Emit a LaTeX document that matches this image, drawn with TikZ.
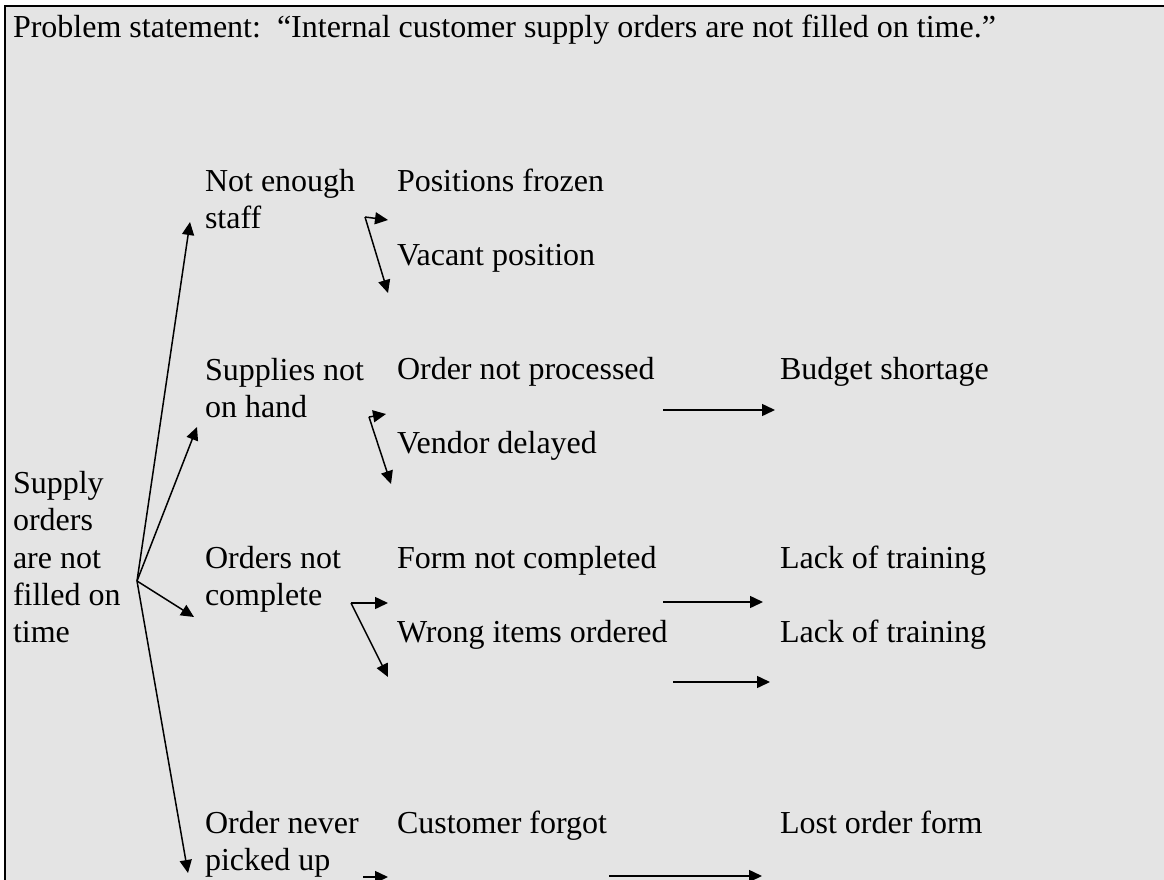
\documentclass[tikz,border=0pt]{standalone}
\usepackage{fontspec}
\setmainfont{Liberation Serif}
\usetikzlibrary{arrows.meta}
\definecolor{boxgray}{HTML}{E4E4E4}
\newcommand{\lbl}[1]{\begin{tabular}[t]{@{}l@{}}#1\end{tabular}}
\begin{document}
\begin{tikzpicture}[x=1pt,y=-1pt,
  txt/.style={anchor=base west,inner sep=0pt,outer sep=0pt,font=\fontsize{32}{37.25}\selectfont},
  arr/.style={line width=1.5pt,-{Triangle[length=13pt,width=12pt]}}]
\useasboundingbox (0,0) rectangle (1164,880);
\fill[white] (0,0) rectangle (1164,880);
\fill[boxgray] (5,6) rectangle (1164,880);
\draw[line width=2pt] (5,880) -- (5,6) -- (1164,6);

% texts
\node[txt] (title) at (13,38) {Problem statement:\ \ “Internal customer supply orders are not filled on time.”};
\node[txt] (root) at (13,493.5) {\lbl{Supply\\orders\\are not\\filled on\\time}};
\node[txt] (b1) at (205,191) {\lbl{Not enough\\staff}};
\node[txt] (b2) at (205,380) {\lbl{Supplies not\\on hand}};
\node[txt] (b3) at (205,568.5) {\lbl{Orders not\\complete}};
\node[txt] (b4) at (205,833) {\lbl{Order never\\picked up}};
\node[txt] (c1) at (397,191) {Positions frozen};
\node[txt] (c2) at (397,265) {Vacant position};
\node[txt] (c3) at (397,379.5) {Order not processed};
\node[txt] (c4) at (397,453) {Vendor delayed};
\node[txt] (c5) at (397,568.5) {Form not completed};
\node[txt] (c6) at (397,642) {Wrong items ordered};
\node[txt] (c7) at (397,833) {Customer forgot};
\node[txt] (d1) at (780,379.5) {Budget shortage};
\node[txt] (d2) at (780,568.5) {Lack of training};
\node[txt] (d3) at (780,642) {Lack of training};
\node[txt] (d4) at (780,833) {Lost order form};

% connector points
\coordinate (v) at (137,581);
\coordinate (t1) at (190,222);
\coordinate (t2) at (197,427);
\coordinate (t3) at (194,617);
\coordinate (t4) at (188,873);
\coordinate (k1) at (365,217);
\coordinate (k1a) at (388,220);
\coordinate (k1b) at (388,293);
\coordinate (k2) at (369,417);
\coordinate (k2a) at (386,414);
\coordinate (k2b) at (391,484);
\coordinate (k3) at (351,603);
\coordinate (k3a) at (388,603);
\coordinate (k3b) at (388,677);
\coordinate (k4) at (363,877);
\coordinate (k4a) at (388,877);
\coordinate (l1) at (663,410);
\coordinate (l1a) at (775,410);
\coordinate (l2) at (663,602);
\coordinate (l2a) at (763,602);
\coordinate (l3) at (673,682);
\coordinate (l3a) at (770,682);
\coordinate (l4) at (609,876);
\coordinate (l4a) at (762,876);

% connectors
\draw[arr] (v) -- (t1);
\draw[arr] (v) -- (t2);
\draw[arr] (v) -- (t3);
\draw[arr] (v) -- (t4);
\draw[arr] (k1) -- (k1a);
\draw[arr] (k1) -- (k1b);
\draw[arr] (k2) -- (k2a);
\draw[arr] (k2) -- (k2b);
\draw[arr] (k3) -- (k3a);
\draw[arr] (k3) -- (k3b);
\draw[arr] (k4) -- (k4a);
\draw[arr] (l1) -- (l1a);
\draw[arr] (l2) -- (l2a);
\draw[arr] (l3) -- (l3a);
\draw[arr] (l4) -- (l4a);
\end{tikzpicture}
\end{document}
